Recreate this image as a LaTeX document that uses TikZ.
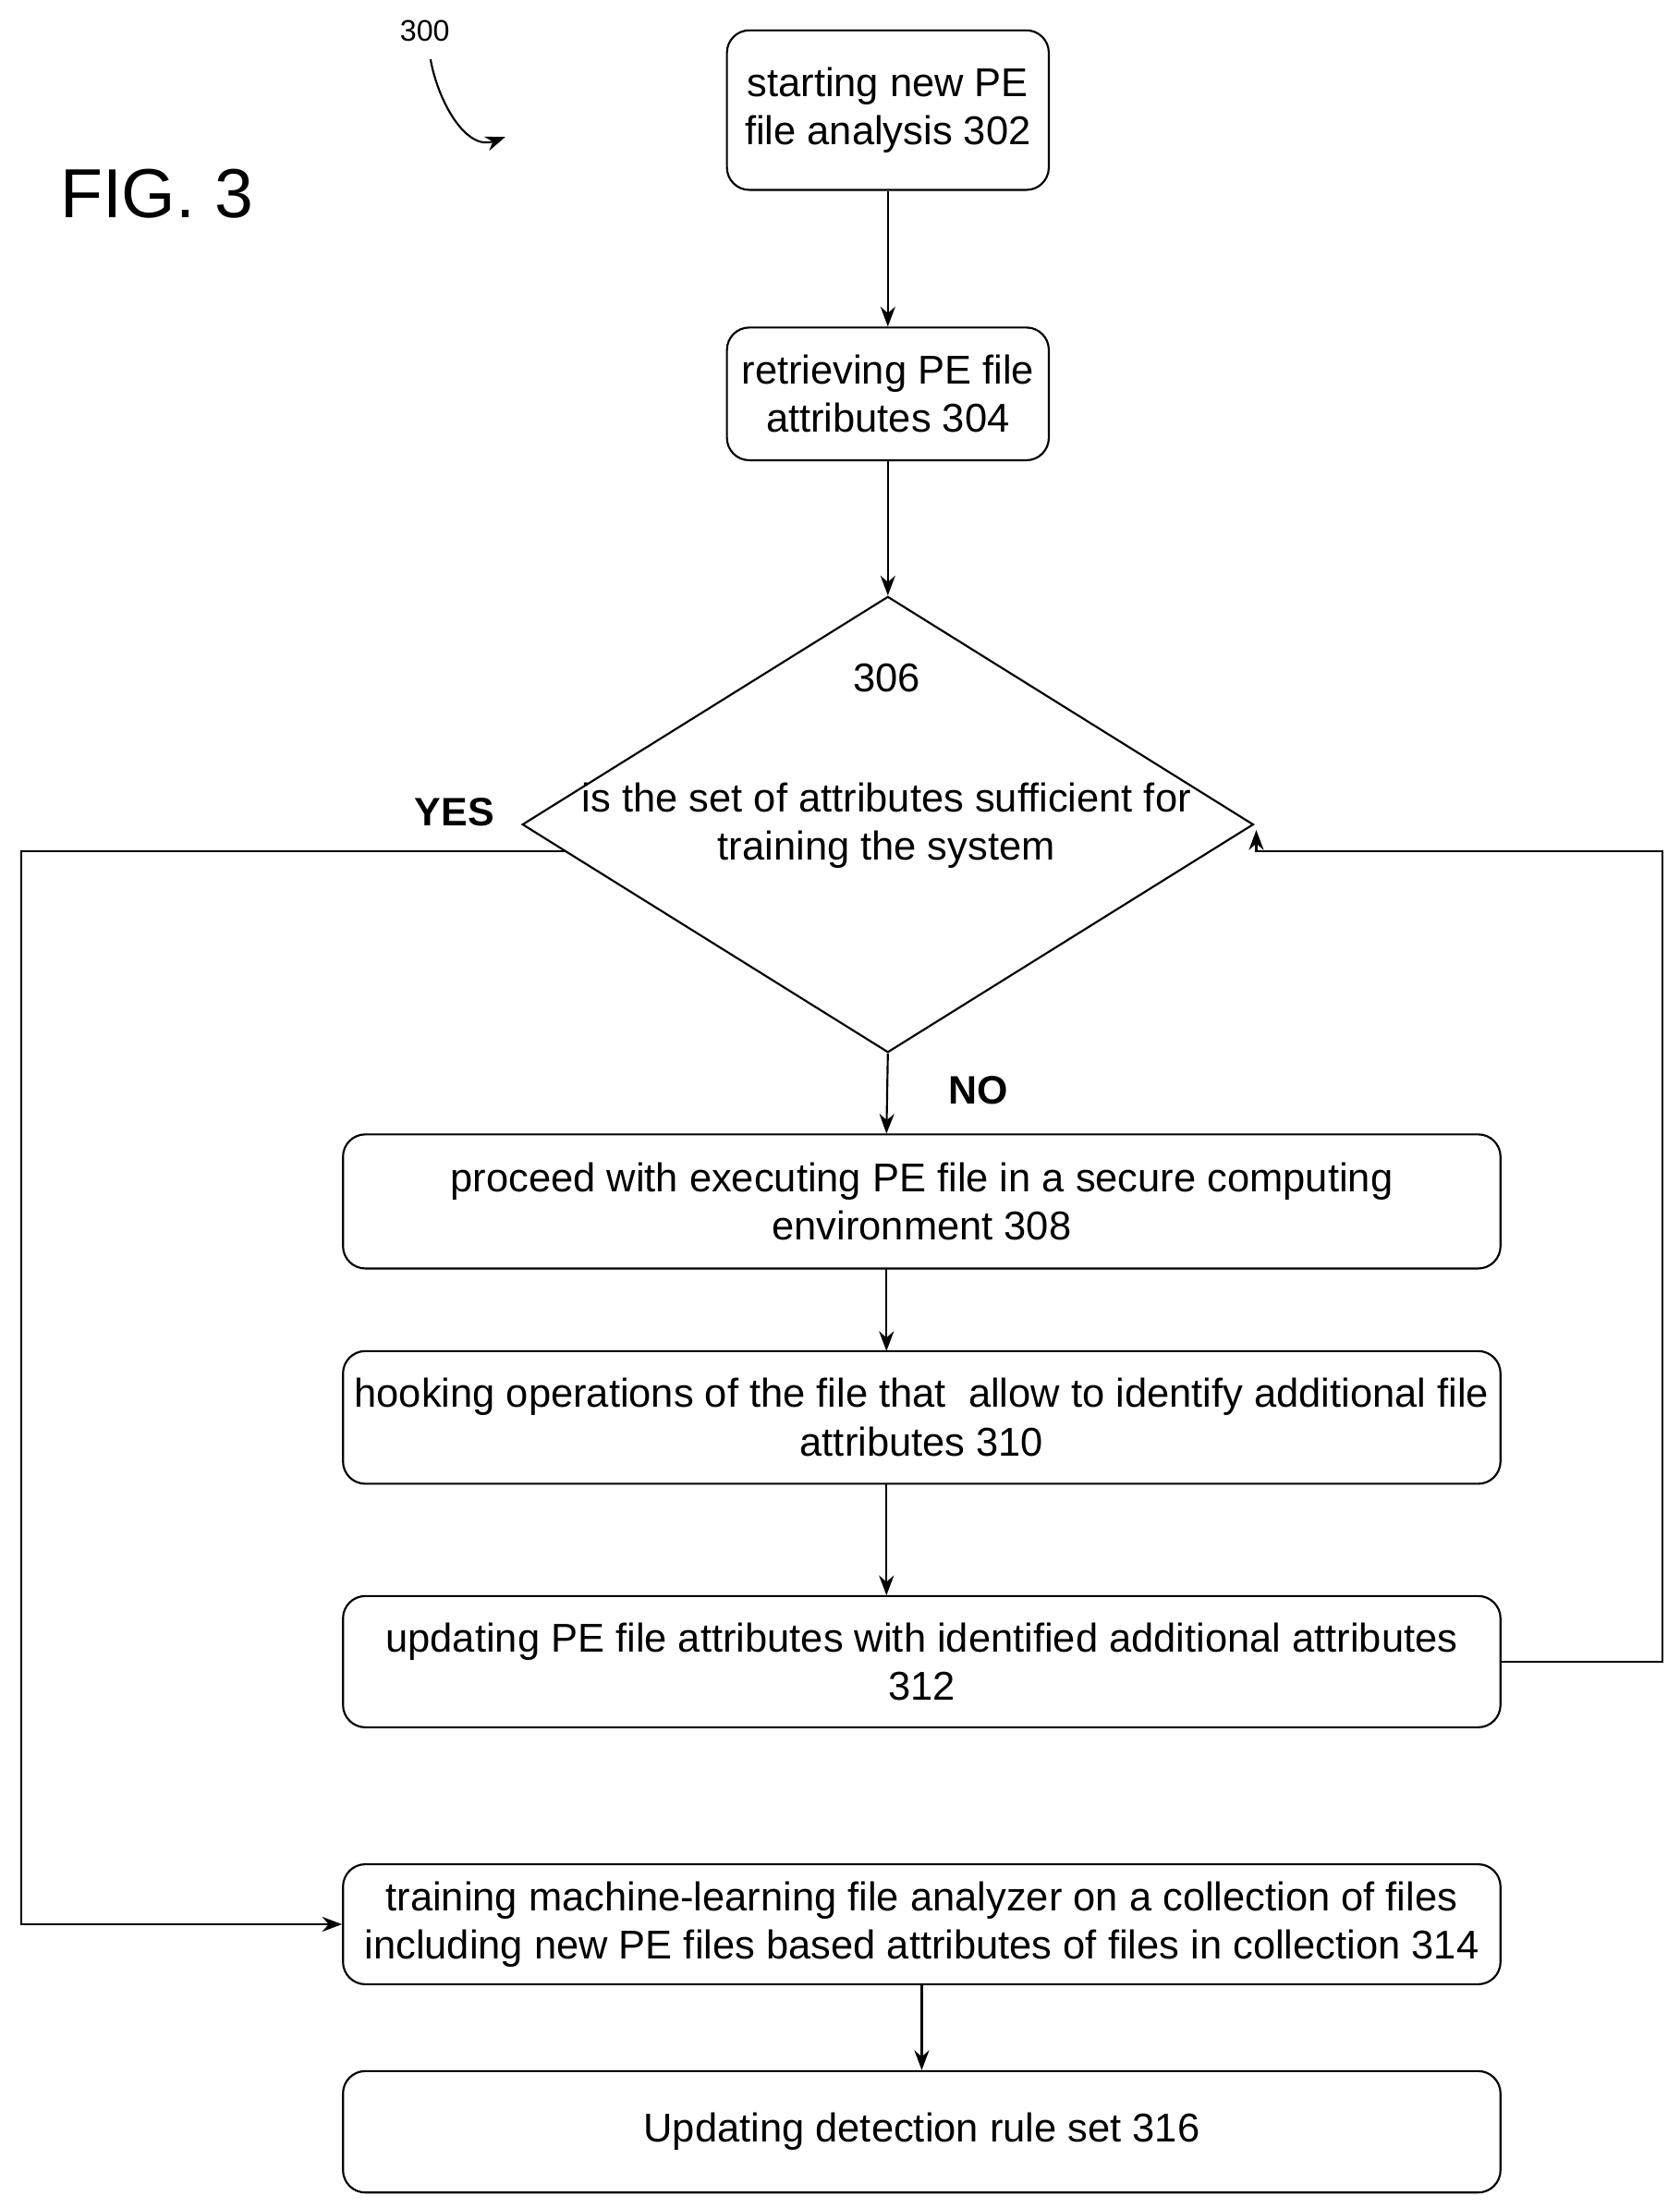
\documentclass[tikz,border=0pt]{standalone}
\usepackage{fontspec}
\setmainfont{Liberation Sans}
\usetikzlibrary{shapes.geometric,arrows.meta}

\tikzset{
	procbox/.style = {draw, rounded corners=9pt, thick, align=center, font=\fontsize{16.2}{19.5}\selectfont, inner sep=0pt},
	flow/.style = {-{Stealth[length=8pt]}, thick}
}

\begin{document}
\begin{tikzpicture}[x=0.02cm, y=-0.02cm]
	\useasboundingbox (0,0) rectangle (1190,1564);

	\node[font=\fontsize{12}{14}\selectfont] (fignum) at (301,22) {300};
	\coordinate (fighook) at (358,97);
	\draw[flow] (305,42) to[out=-80, in=200] (fighook);
	\node[font=\fontsize{28}{32}\selectfont] (figlabel) at (111,137) {FIG. 3};

	\node[procbox, minimum width=228*0.02cm, minimum height=113*0.02cm] (start) at (629,78) {starting new PE\\file analysis 302};
	\node[procbox, minimum width=228*0.02cm, minimum height=94*0.02cm] (retrieve) at (629,279) {retrieving PE file\\attributes 304};

	\node[draw, thick, diamond, aspect=1.6, minimum width=518*0.02cm, minimum height=323*0.02cm, inner sep=0pt] (check) at (629,584) {};
	\node[font=\fontsize{16.2}{19.5}\selectfont] (checknum) at (628,480) {306};
	\node[font=\fontsize{16.2}{19.5}\selectfont, align=center] (checktext) at (628,585) {is the set of attributes sufficient for\\training the system};
	\node[font=\bfseries\fontsize{16}{17}\selectfont] (yes) at (322,575) {YES};
	\node[font=\bfseries\fontsize{16}{17}\selectfont] (no) at (693,772) {NO};

	\node[procbox, minimum width=820*0.02cm, minimum height=95*0.02cm] (execute) at (653,851) {proceed with executing PE file in a secure computing\\environment 308};
	\node[procbox, minimum width=820*0.02cm, minimum height=94*0.02cm] (hook) at (653,1004) {hooking operations of the file that\ \ allow to identify additional file\\attributes 310};
	\node[procbox, minimum width=820*0.02cm, minimum height=93*0.02cm] (update) at (653,1177) {updating PE file attributes with identified additional attributes\\312};
	\node[procbox, minimum width=820*0.02cm, minimum height=85*0.02cm] (train) at (653,1363) {training machine-learning file analyzer on a collection of files\\including new PE files based attributes of files in collection 314};
	\node[procbox, minimum width=820*0.02cm, minimum height=86*0.02cm] (rules) at (653,1510) {Updating detection rule set 316};

	\coordinate (yesout) at (400,603);
	\coordinate (loopin) at (890,603);

	\draw[flow] (start) -- (retrieve);
	\draw[flow] (retrieve) -- (check.north);
	\draw[flow] (check.south) -- (628,803);
	\draw[flow] (628,898) -- (628,957);
	\draw[flow] (628,1051) -- (628,1130);
	\draw[flow] (yesout) -- (15,603) -- (15,1363) -- (train.west);
	\draw[flow] (update.east) -- (1178,1177) -- (1178,603) -- (loopin) -- (890,588);
	\draw[flow] (train) -- (rules);
\end{tikzpicture}
\end{document}
